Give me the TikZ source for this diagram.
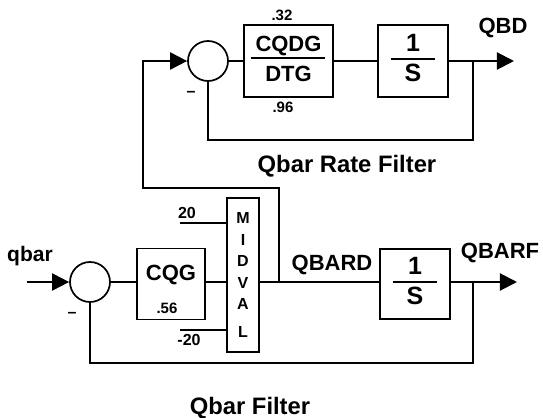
\documentclass[tikz,border=0pt]{standalone}
\usepackage{fontspec}
\setmainfont{Liberation Sans}
\usepackage{tikz}
\usetikzlibrary{arrows.meta,positioning,calc}
\newcommand{\blockfrac}[3][2pt]{\begin{tabular}{@{\hspace{#1}}c@{\hspace{#1}}}#2\\[-1pt]\hline\rule{0pt}{11pt}#3\end{tabular}}
\setlength{\arrayrulewidth}{1pt}
\tikzset{
  blk/.style={rectangle,draw,line width=0.8pt,inner sep=0pt,align=center,font=\fontsize{11}{13}\selectfont\bfseries},
  sumj/.style={circle,draw,line width=0.85pt,minimum size=20pt,inner sep=0pt},
  lbl/.style={inner sep=0pt,font=\fontsize{11}{13}\selectfont\bfseries},
  ttl/.style={inner sep=0pt,font=\fontsize{11.9}{14}\selectfont\bfseries},
  num/.style={inner sep=0pt,font=\fontsize{7.5}{9}\selectfont\bfseries},
  neg/.style={inner sep=0pt,font=\fontsize{8}{9}\selectfont\bfseries},
  sig/.style={line width=1pt},
  arr/.style={line width=1pt,-{Triangle[length=8.5pt,width=8.5pt]}},
}
\begin{document}
\begin{tikzpicture}[x=0.5pt,y=-0.5pt]
  \useasboundingbox (0,0) rectangle (543,418);
  % rate filter (top loop)
  \node[sumj] (s1) at (208,61) {};
  \node[blk,minimum width=44.5pt,minimum height=36pt] (g1) at (288.5,61) {\blockfrac{CQDG}{DTG}};
  \node[blk,minimum width=35pt,minimum height=36pt,font=\fontsize{12.5}{14}\selectfont\bfseries] (i1) at (413,61) {\blockfrac[7pt]{1}{S}};
  \node[num] (k1hi) at (282,15) {.32};
  \node[num] (k1lo) at (283,107) {.96};
  \node[lbl] (qbd) at (503,28) {QBD};
  \node[neg] (m1) at (191,94) {\textendash};
  \coordinate (o1) at (514,61);
  \coordinate (b1) at (473,61);
  \coordinate (f1) at (473,140);
  \draw[sig] (s1) -- (g1);
  \draw[sig] (g1) -- (i1);
  \draw[arr] (i1) -- (o1);
  \draw[sig] (b1) -- (f1) -| (s1);
  \node[ttl] (t1) at (347,166) {Qbar Rate Filter};
  % qbar filter (bottom loop)
  \node[lbl,font=\fontsize{10.5}{12}\selectfont\bfseries] (qin) at (30,256) {qbar};
  \coordinate (in2) at (27,282);
  \node[sumj] (s2) at (90,282) {};
  \node[blk,minimum width=34pt,minimum height=35.5pt] (g2) at (171,284) {CQG\\[-2pt]\phantom{.56}};
  \node[num] (k2) at (167,308) {.56};
  \node[blk,minimum width=16pt,minimum height=77pt,font=\fontsize{8}{10.75}\selectfont\bfseries] (mv) at (243,275) {M\\I\\D\\V\\A\\[3.25pt]L};
  \coordinate (l20) at (180,223);
  \coordinate (l-20) at (180,330);
  \node[num,font=\fontsize{8}{9}\selectfont\bfseries] (hi) at (187,213) {20};
  \node[num,font=\fontsize{8}{9}\selectfont\bfseries] (lo) at (189,340) {-20};
  \node[blk,minimum width=35pt,minimum height=35pt,font=\fontsize{12.5}{14}\selectfont\bfseries] (i2) at (415,284) {\blockfrac[7pt]{1}{S}};
  \node[lbl] (qbard) at (332,265) {QBARD};
  \node[lbl] (qbarf) at (500,253) {QBARF};
  \node[neg] (m2) at (72,315) {\textendash};
  \coordinate (j2) at (279,282);
  \coordinate (c2) at (143,188);
  \coordinate (o2) at (517,282);
  \coordinate (b2) at (473,282);
  \coordinate (f2) at (473,363);
  \draw[arr] (in2) -- (s2);
  \draw[sig] (s2) -- (s2 -| g2.west);
  \draw[sig] (s2 -| g2.east) -- (s2 -| mv.west);
  \draw[sig] (s2 -| mv.east) -- (s2 -| i2.west);
  \draw[arr] (s2 -| i2.east) -- (o2);
  \draw[sig] (l20) -- (l20 -| mv.west);
  \draw[sig] (l-20) -- (l-20 -| mv.west);
  \draw[sig] (b2) -- (f2) -| (s2);
  \draw[arr] (j2) |- (c2) |- (s1);
  \node[ttl] (t2) at (250,408) {Qbar Filter};
\end{tikzpicture}
\end{document}
